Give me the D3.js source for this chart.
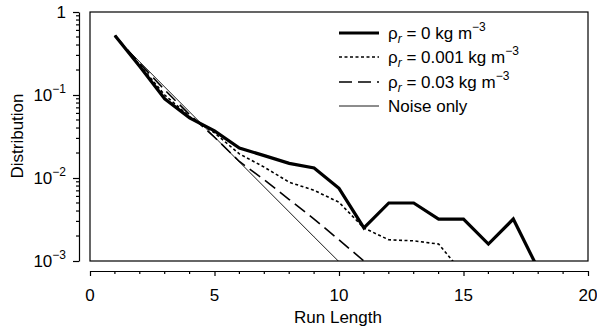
<!DOCTYPE html>
<html><head><meta charset="utf-8">
<script src="https://cdn.jsdelivr.net/npm/d3@7"></script>
<style>
body{margin:0;background:#fff}
svg{display:block}
text{font-family:"Liberation Sans",Arial,Helvetica,sans-serif;fill:#000}
</style></head><body>
<svg id="c" width="597" height="329"></svg>
<script>
// ---- data ----
const seriesNames = ["rho0", "rho001", "rho03", "noise"];
const rho0   = [0.52,0.22,0.09,0.053,0.037,0.023,0.0186,0.015,0.0132,0.0075,0.0025,0.005,0.005,0.0032,0.0032,0.0016,0.0032,0.0008];
const rho001 = [0.52,0.23,0.10,0.055,0.035,0.0195,0.0135,0.0089,0.0071,0.0051,0.0025,0.0018,0.00175,0.0016,0.0007];
const rho03  = [0.52,0.24,0.115,0.058,0.031,0.0158,0.0095,0.0055,0.0032,0.0018,0.00100];
const noise  = [0.5,0.25,0.125,0.0625,0.03125,0.0156,0.0078,0.0039,0.00195,0.00098];
const xTicks = [0,5,10,15,20];
const yTickExps = [0,-1,-2,-3];
const legendValues = ["0","0.001","0.03"];

// ---- layout ----
const svg = d3.select("#c");
const L = 90, R = 588, T = 12, B = 261;
const x = d3.scaleLinear().domain([0,20]).range([L,R]);
const y = d3.scaleLog().domain([1e-3,1]).range([B,T]);

svg.append("defs").append("clipPath").attr("id","clip")
  .append("rect").attr("x",L).attr("y",T).attr("width",R-L).attr("height",B-T);

// frame
svg.append("rect").attr("x",L).attr("y",T).attr("width",R-L).attr("height",B-T)
  .attr("fill","none").attr("stroke","#000").attr("stroke-width",1.2);

// y axis (detached)
const yAx = svg.append("g").attr("transform","translate(79,0)");
yAx.call(d3.axisLeft(y).tickValues(yTickExps.map(e=>Math.pow(10,e))).tickSize(6).tickSizeOuter(0).tickFormat(""));
const minorY = [];
for (let e=-3;e<0;e++) for (let m=2;m<10;m++) minorY.push(m*Math.pow(10,e));
yAx.selectAll(".minor").data(minorY).enter().append("line").attr("class","minor")
  .attr("x1",0).attr("x2",-3).attr("y1",d=>y(d)).attr("y2",d=>y(d)).attr("stroke","#000");
yAx.selectAll("path,line").attr("stroke","#000").attr("stroke-width",1.2);
const yl = svg.append("g").selectAll("text").data(yTickExps).enter().append("text")
  .attr("x",66).attr("y",d=>y(Math.pow(10,d))+6).attr("text-anchor","end").attr("font-size",17);
yl.each(function(d){
  const t = d3.select(this);
  if (d===0) { t.text("1"); return; }
  t.append("tspan").text("10");
  t.append("tspan").attr("dy",-8).attr("font-size",12).text("\u2212"+(-d));
});

// x axis (detached)
const xAx = svg.append("g").attr("transform","translate(0,271)");
xAx.call(d3.axisBottom(x).tickValues(xTicks).tickSize(5).tickSizeOuter(0).tickFormat(""));
xAx.selectAll(".minor").data(d3.range(0,21).filter(d=>d%5)).enter().append("line").attr("class","minor")
  .attr("x1",d=>x(d)).attr("x2",d=>x(d)).attr("y1",0).attr("y2",3).attr("stroke","#000");
xAx.selectAll("path,line").attr("stroke","#000").attr("stroke-width",1.2);
svg.append("g").selectAll("text").data(xTicks).enter().append("text")
  .attr("x",d=>x(d)).attr("y",301).attr("text-anchor","middle").attr("font-size",17).text(d=>d);

// axis titles
svg.append("text").attr("x",338).attr("y",323).attr("text-anchor","middle").attr("font-size",17).text("Run Length");
svg.append("text").attr("transform","translate(23,136) rotate(-90)").attr("text-anchor","middle").attr("font-size",17).text("Distribution");

// series
const styles = {
  rho0:   {w:3.2, dash:null},
  rho001: {w:1.6, dash:"3,2.5"},
  rho03:  {w:1.6, dash:"13,6"},
  noise:  {w:0.9, dash:null}
};
const dataMap = {rho0, rho001, rho03, noise};
const line = d3.line().x((d,i)=>x(i+1)).y(d=>y(d));
const g = svg.append("g").attr("clip-path","url(#clip)");
seriesNames.slice().reverse().forEach(n=>{
  g.append("path").datum(dataMap[n]).attr("d",line).attr("fill","none")
    .attr("stroke","#000").attr("stroke-width",styles[n].w)
    .attr("stroke-dasharray",styles[n].dash).attr("stroke-linejoin","miter");
});

// legend
const leg = svg.append("g");
const legY = [33,57,82,106];
seriesNames.forEach((n,i)=>{
  leg.append("line").attr("x1",339).attr("x2",379).attr("y1",legY[i]).attr("y2",legY[i])
    .attr("stroke","#000").attr("stroke-width",styles[n].w).attr("stroke-dasharray",styles[n].dash);
  const t = leg.append("text").attr("x",388).attr("y",legY[i]+6).attr("font-size",17);
  if (i<3) {
    t.append("tspan").text("\u03c1");
    t.append("tspan").attr("dy",4).attr("font-size",12).attr("font-style","italic").text("r");
    t.append("tspan").attr("dy",-4).text(" = "+legendValues[i]+" kg m");
    t.append("tspan").attr("dy",-8).attr("font-size",12).text("\u22123");
  } else {
    t.text("Noise only");
  }
});
</script></body></html>
